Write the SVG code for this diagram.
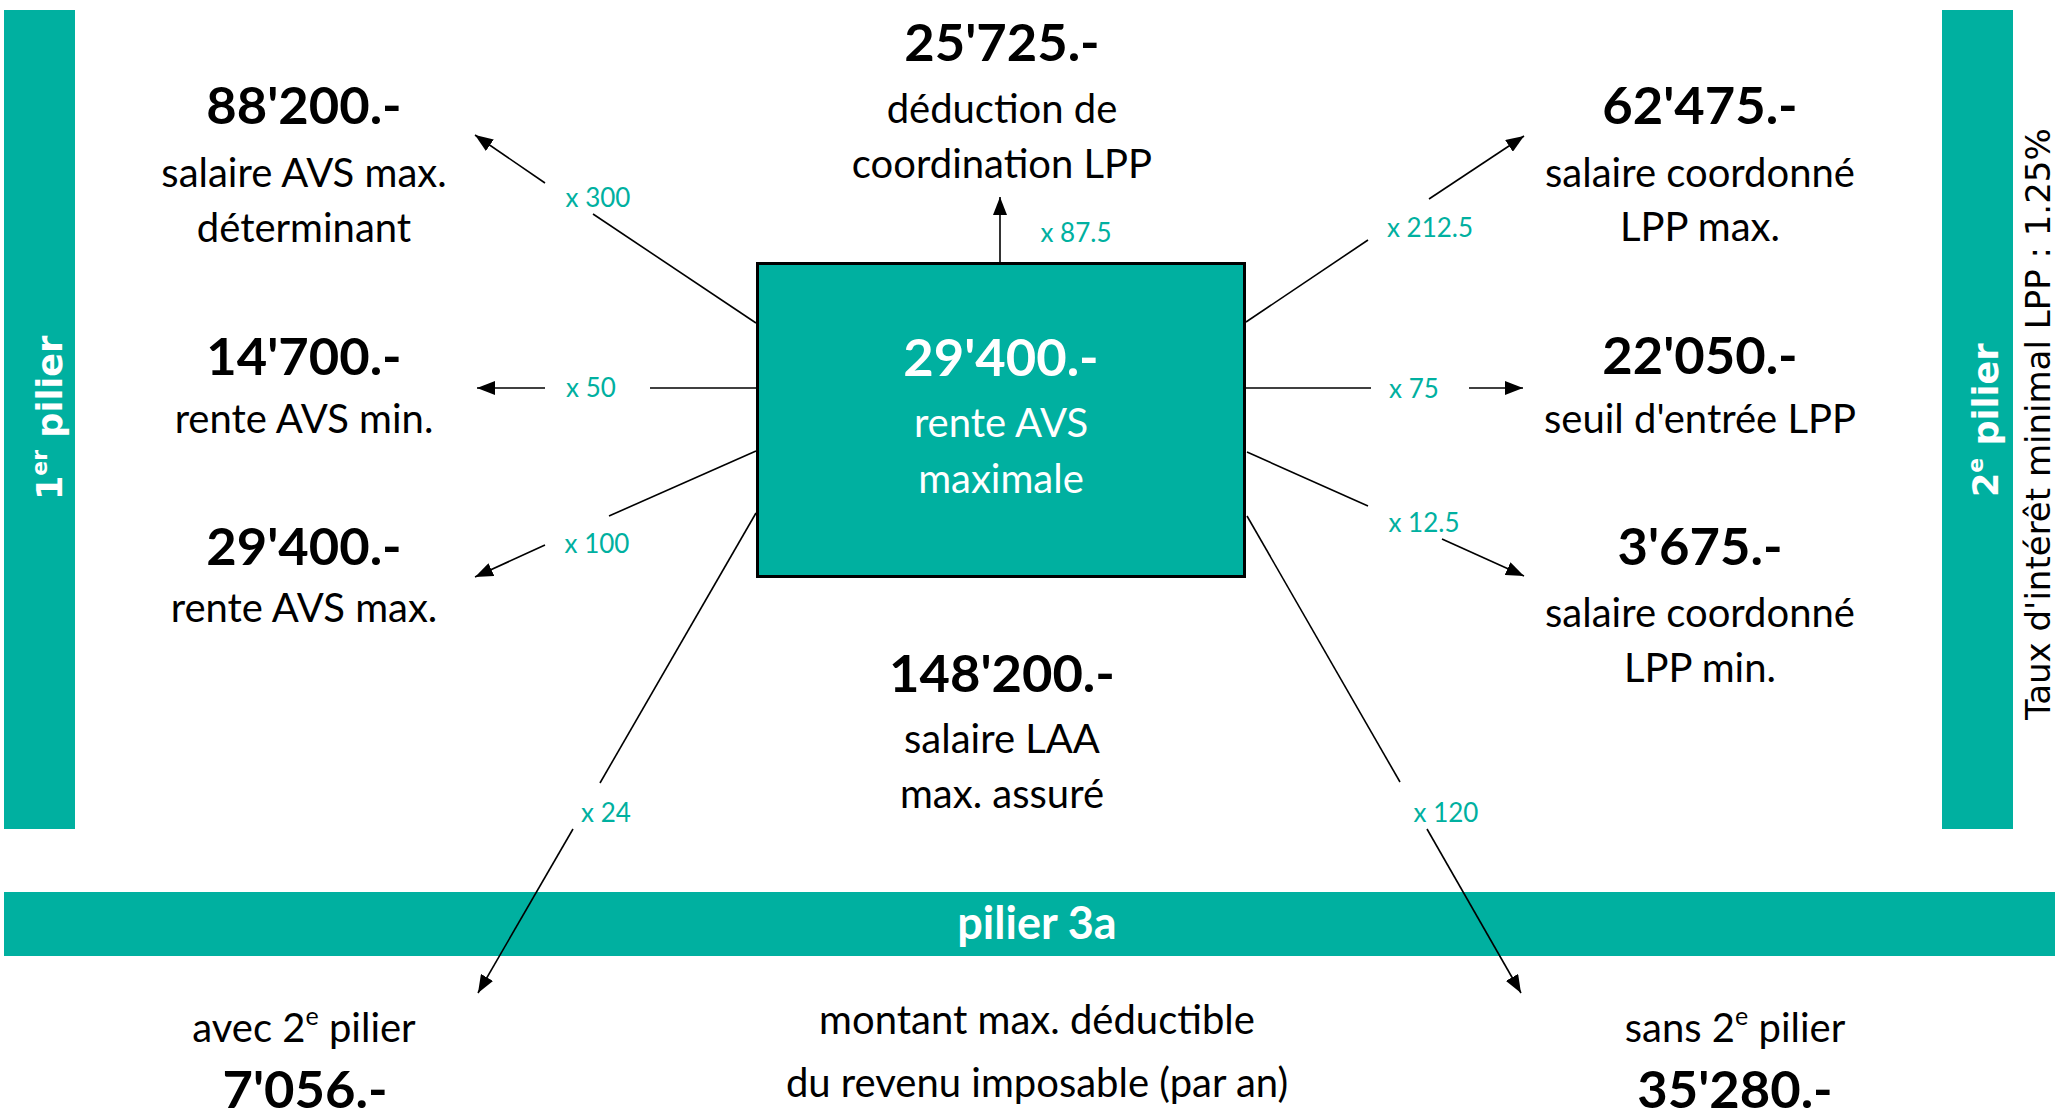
<svg xmlns="http://www.w3.org/2000/svg" width="2055" height="1117" viewBox="0 0 2055 1117">
<style>
.bar{fill:#00B0A0}
.num{font-family:Lato,"Liberation Sans",sans-serif;font-weight:bold;font-size:52.5px;fill:#000;text-anchor:middle}
.txt{font-family:Lato,"Liberation Sans",sans-serif;font-size:40px;fill:#000;text-anchor:middle}
.lbl{font-family:Lato,"Liberation Sans",sans-serif;font-size:26px;fill:#00B0A0;text-anchor:middle}
.w{fill:#fff}
.vbold{font-family:"DejaVu Sans",Verdana,sans-serif;font-weight:bold;font-size:35px;fill:#fff}
.vtxt{font-family:"DejaVu Sans",Verdana,sans-serif;font-size:34px;fill:#000}
.ln{stroke:#000;stroke-width:1.6;fill:none}
</style>
<defs>
<marker id="ah" markerUnits="userSpaceOnUse" markerWidth="20" markerHeight="14" refX="18" refY="7" orient="auto">
<path d="M0,0 L18,7 L0,14 z" fill="#000"/>
</marker>
</defs>
<rect width="2055" height="1117" fill="#fff"/>

<g id="pilier1">
<rect class="bar" x="4" y="10" width="71" height="819"/>
<text class="vbold" transform="translate(62,500) rotate(-90)">1<tspan font-size="22" dy="-15">er</tspan><tspan dy="15"> pilier</tspan></text>
</g>
<g id="pilier2">
<rect class="bar" x="1942" y="10" width="71" height="819"/>
<text class="vbold" transform="translate(1998,497) rotate(-90)">2<tspan font-size="22" dy="-15">e</tspan><tspan dy="15"> pilier</tspan></text>
</g>
<g id="taux">
<text class="vtxt" transform="translate(2050,720) rotate(-90)">Taux d'intérêt minimal LPP : 1.25%</text>
</g>
<g id="pilier3a">
<rect class="bar" x="4" y="892" width="2051" height="64"/>
<text x="1037" y="939" font-family="Lato,'Liberation Sans',sans-serif" font-weight="bold" font-size="45" fill="#fff" text-anchor="middle">pilier 3a</text>
</g>

<g id="connectors">
<line class="ln" x1="756" y1="323" x2="593" y2="214"/>
<line class="ln" x1="545" y1="183" x2="475" y2="135" marker-end="url(#ah)"/>
<line class="ln" x1="756" y1="388" x2="650" y2="388"/>
<line class="ln" x1="545" y1="388" x2="477" y2="388" marker-end="url(#ah)"/>
<line class="ln" x1="756" y1="451" x2="609" y2="516"/>
<line class="ln" x1="545" y1="545" x2="475" y2="577" marker-end="url(#ah)"/>
<line class="ln" x1="756" y1="513" x2="600" y2="783"/>
<line class="ln" x1="573" y1="829" x2="478" y2="993" marker-end="url(#ah)"/>
<line class="ln" x1="1000" y1="262" x2="1000" y2="197" marker-end="url(#ah)"/>
<line class="ln" x1="1246" y1="322" x2="1368" y2="240"/>
<line class="ln" x1="1429" y1="199" x2="1524" y2="136" marker-end="url(#ah)"/>
<line class="ln" x1="1246" y1="388" x2="1371" y2="388"/>
<line class="ln" x1="1469" y1="388" x2="1523" y2="388" marker-end="url(#ah)"/>
<line class="ln" x1="1247" y1="452" x2="1368" y2="506"/>
<line class="ln" x1="1442" y1="539" x2="1524" y2="576" marker-end="url(#ah)"/>
<line class="ln" x1="1247" y1="516" x2="1400" y2="782"/>
<line class="ln" x1="1427" y1="829" x2="1521" y2="993" marker-end="url(#ah)"/>
<text class="lbl" x="598" y="207">x 300</text>
<text class="lbl" x="591" y="397">x 50</text>
<text class="lbl" x="597" y="553">x 100</text>
<text class="lbl" x="606" y="822">x 24</text>
<text class="lbl" x="1076" y="242">x 87.5</text>
<text class="lbl" x="1430" y="237">x 212.5</text>
<text class="lbl" x="1414" y="398">x 75</text>
<text class="lbl" x="1424" y="532">x 12.5</text>
<text class="lbl" x="1446" y="822">x 120</text>
</g>

<g id="rente-max-center">
<rect x="757.5" y="263.5" width="487" height="313" fill="#00B0A0" stroke="#000" stroke-width="3"/>
<text class="num w" x="1001" y="376">29'400.-</text>
<text class="txt w" x="1001" y="437">rente AVS</text>
<text class="txt w" x="1001" y="493">maximale</text>
</g>

<g id="salaire-avs-max">
<text class="num" x="304" y="124">88'200.-</text>
<text class="txt" x="304" y="187">salaire AVS max.</text>
<text class="txt" x="304" y="242">déterminant</text>
</g>
<g id="rente-avs-min">
<text class="num" x="304" y="375">14'700.-</text>
<text class="txt" x="304" y="433">rente AVS min.</text>
</g>
<g id="rente-avs-max">
<text class="num" x="304" y="565">29'400.-</text>
<text class="txt" x="304" y="622">rente AVS max.</text>
</g>
<g id="deduction-coordination">
<text class="num" x="1002" y="61">25'725.-</text>
<text class="txt" x="1002" y="123">déduction de</text>
<text class="txt" x="1002" y="178">coordination LPP</text>
</g>
<g id="salaire-laa">
<text class="num" x="1002" y="692">148'200.-</text>
<text class="txt" x="1002" y="753">salaire LAA</text>
<text class="txt" x="1002" y="808">max. assuré</text>
</g>
<g id="salaire-coord-max">
<text class="num" x="1700" y="124">62'475.-</text>
<text class="txt" x="1700" y="187">salaire coordonné</text>
<text class="txt" x="1700" y="241">LPP max.</text>
</g>
<g id="seuil-entree">
<text class="num" x="1700" y="374">22'050.-</text>
<text class="txt" x="1700" y="433">seuil d'entrée LPP</text>
</g>
<g id="salaire-coord-min">
<text class="num" x="1700" y="565">3'675.-</text>
<text class="txt" x="1700" y="627">salaire coordonné</text>
<text class="txt" x="1700" y="682">LPP min.</text>
</g>
<g id="avec-2e">
<text class="txt" x="304" y="1042">avec 2<tspan font-size="25" dy="-17">e</tspan><tspan dy="17"> pilier</tspan></text>
<text class="num" x="305" y="1108">7'056.-</text>
</g>
<g id="montant-deductible">
<text class="txt" x="1037" y="1034">montant max. déductible</text>
<text class="txt" x="1037" y="1097">du revenu imposable (par an)</text>
</g>
<g id="sans-2e">
<text class="txt" x="1735" y="1042">sans 2<tspan font-size="25" dy="-17">e</tspan><tspan dy="17"> pilier</tspan></text>
<text class="num" x="1735" y="1108">35'280.-</text>
</g>
</svg>
